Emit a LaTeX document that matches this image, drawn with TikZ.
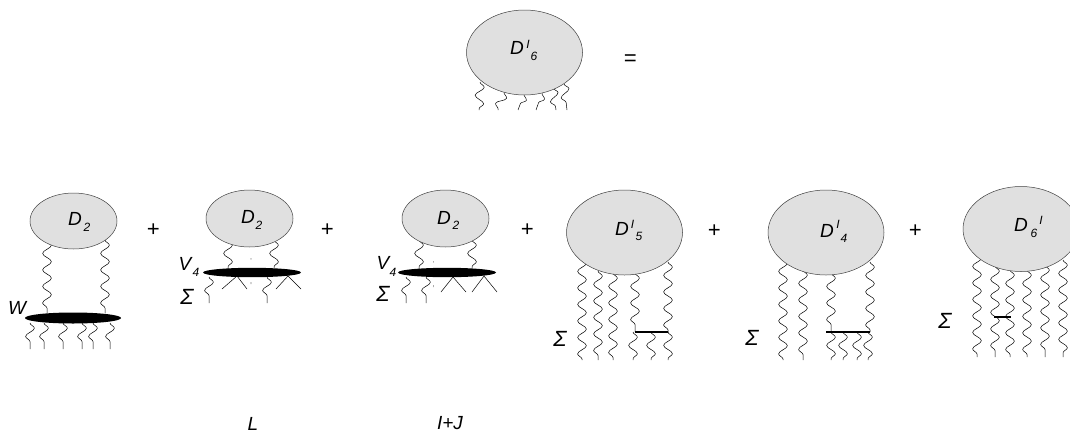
\documentclass[tikz,border=0pt]{standalone}
\usepackage{fontspec}
\setmainfont{Liberation Sans}
\usetikzlibrary{decorations.pathmorphing}
\newcounter{wvc}
\newcommand{\wv}[4]{\stepcounter{wvc}%
  \coordinate (wa\thewvc) at (#1,#2);\coordinate (wb\thewvc) at (#3,#4);%
  \draw[wavy] (wa\thewvc) -- (wb\thewvc);}
\newcounter{lgc}
\newcommand{\tick}[6]{\stepcounter{lgc}%
  \coordinate (ta\thelgc) at (#1,#2);\coordinate (tb\thelgc) at (#3,#4);\coordinate (tc\thelgc) at (#5,#6);%
  \draw[thinline] (tb\thelgc) -- (ta\thelgc) -- (tc\thelgc);}
\tikzset{
  wavy/.style={line width=0.5pt,decorate,decoration={snake,amplitude=4.4pt,segment length=16.5pt,pre length=0pt,post length=0pt}},
  thinline/.style={line width=0.5pt},
  blob/.style={draw=black!75,line width=0.5pt,fill=black!12},
  vertexblob/.style={fill=black},
  lab/.style={inner sep=0pt,font=\itshape\fontsize{19}{19}\selectfont},
  sub/.style={inner sep=0pt,font=\itshape\fontsize{12}{12}\selectfont},
  opr/.style={inner sep=0pt,font=\itshape\fontsize{22}{22}\selectfont},
  sig/.style={inner sep=0pt,font=\itshape\fontsize{22}{22}\selectfont},
  bar/.style={line width=1.1pt},
  tbar/.style={line width=1.8pt}
}
\begin{document}
\begin{tikzpicture}[x=1pt,y=-1pt]
\useasboundingbox (0,0) rectangle (1070,434);
% top
\wv{480}{82}{479}{110}\wv{504}{92}{498}{110}\wv{524}{94}{518}{110}
\wv{542}{93}{536}{110}\wv{553}{88}{556}{110}\wv{564}{84}{567}{110}
\path[blob] (524.5,52.5) ellipse (58 and 42.5);
\node[lab] (t1) at (517,48) {D};
\node[sub] (t2) at (528,44) {I};
\node[sub] (t3) at (534,56) {6};
\node[opr] (eq) at (630,60) {=};
% diagram 1
\wv{47}{240}{47}{313}\wv{105}{240}{105}{313}
\wv{30}{323}{30}{349}\wv{44}{323}{44}{349}\wv{63}{323}{63}{349}
\wv{82}{323}{82}{349}\wv{93}{323}{93}{349}\wv{110}{323}{110}{349}
\path[blob] (73.5,221) ellipse (43.5 and 28);
\path[vertexblob] (73,318) ellipse (48 and 5.5);
\node[lab] (d1) at (75,219) {D};
\node[sub] (d1s) at (87,227) {2};
\node[lab] (w1) at (17,308) {W};
\node[opr] (p1) at (153,230) {+};
% diagram 2
\wv{228}{240}{228}{269}\wv{274}{240}{274}{268}
\wv{209}{277}{209}{303}\wv{267}{277}{267}{303}
\tick{237}{276}{222}{289}{247}{289}
\tick{288}{276}{276}{289}{301}{289}
\path[blob] (249.5,218.5) ellipse (43.5 and 28.5);
\path[vertexblob] (252,272.5) ellipse (49 and 4.7);
\path[fill=black!50] (250.7,258) rectangle (251.3,259.5) (250.7,282) rectangle (251.3,284);
\node[lab] (d2) at (248,217) {D};
\node[sub] (d2s) at (259,225) {2};
\node[lab] (v2) at (185,264) {V};
\node[sub] (v2s) at (196,272) {4};
\node[sig] (s2) at (187,297) {Σ};
\node[opr] (p2) at (327,230) {+};
% diagram 3
\wv{419}{240}{419}{269}\wv{472}{240}{472}{268}
\wv{406}{277}{406}{303}\wv{426}{277}{426}{303}
\tick{453}{277}{441}{292}{466}{292}
\tick{484}{276}{472}{292}{497}{292}
\path[blob] (445.5,218.5) ellipse (43.5 and 28.5);
\path[vertexblob] (447,272.5) ellipse (49 and 4.7);
\path[fill=black!50] (433,261) rectangle (433.6,262.5) (433,285) rectangle (433.6,287);
\node[lab] (d3) at (444,218) {D};
\node[sub] (d3s) at (456,225) {2};
\node[lab] (v3) at (383,263) {V};
\node[sub] (v3s) at (393,272) {4};
\node[sig] (s3) at (383,294) {Σ};
\node[opr] (p3) at (527,230) {+};
% diagram 4
\wv{582}{258}{582}{360}\wv{598}{271}{598}{360}\wv{613}{273}{613}{360}
\wv{635}{273}{635}{332}\wv{668}{262}{668}{332}
\wv{633}{332}{633}{360}\wv{651}{332}{651}{360}\wv{668}{332}{668}{360}
\coordinate (ba4) at (635,332);\coordinate (bb4) at (668,332);
\draw[bar] (ba4) -- (bb4);
\path[blob] (624.5,232.5) ellipse (58 and 42.5);
\node[lab] (d4) at (622,229) {D};
\node[sub] (d4i) at (632.5,224) {I};
\node[sub] (d4s) at (639,236) {5};
\node[sig] (s4) at (560,339) {Σ};
\node[opr] (p4) at (714,231) {+};
% diagram 5
\wv{783}{258}{783}{360}\wv{803}{270}{803}{360}
\wv{831}{273}{831}{332}\wv{870}{262}{870}{332}
\wv{831}{332}{831}{360}\wv{843}{332}{843}{360}\wv{857}{332}{857}{360}\wv{868}{332}{868}{360}
\coordinate (ba5) at (826,332);\coordinate (bb5) at (870,332);
\draw[bar] (ba5) -- (bb5);
\path[blob] (826,232.5) ellipse (58 and 42.5);
\node[lab] (d5) at (827,231) {D};
\node[sub] (d5i) at (838,224) {I};
\node[sub] (d5s) at (844,238) {4};
\node[sig] (s5) at (752,338) {Σ};
\node[opr] (p5) at (915,231) {+};
% diagram 6
\wv{977}{253}{977}{357}\wv{995}{266}{995}{357}\wv{1010}{270}{1010}{357}
\wv{1027}{270}{1027}{357}\wv{1045}{265}{1045}{357}\wv{1063}{260}{1063}{357}
\coordinate (ba6) at (994,317);\coordinate (bb6) at (1011,317);
\draw[tbar] (ba6) -- (bb6);
\path[blob] (1021,229) ellipse (58 and 42.5);
\node[lab] (d6) at (1021,225) {D};
\node[sub] (d6s) at (1034,233) {6};
\node[sub] (d6i) at (1041,220) {I};
\node[sig] (s6) at (945,321) {Σ};
% bottom labels
\node[lab] (ll) at (253,423.5) {L};
\node[lab] (lij) at (450,423.5) {I+J};
\end{tikzpicture}
\end{document}
